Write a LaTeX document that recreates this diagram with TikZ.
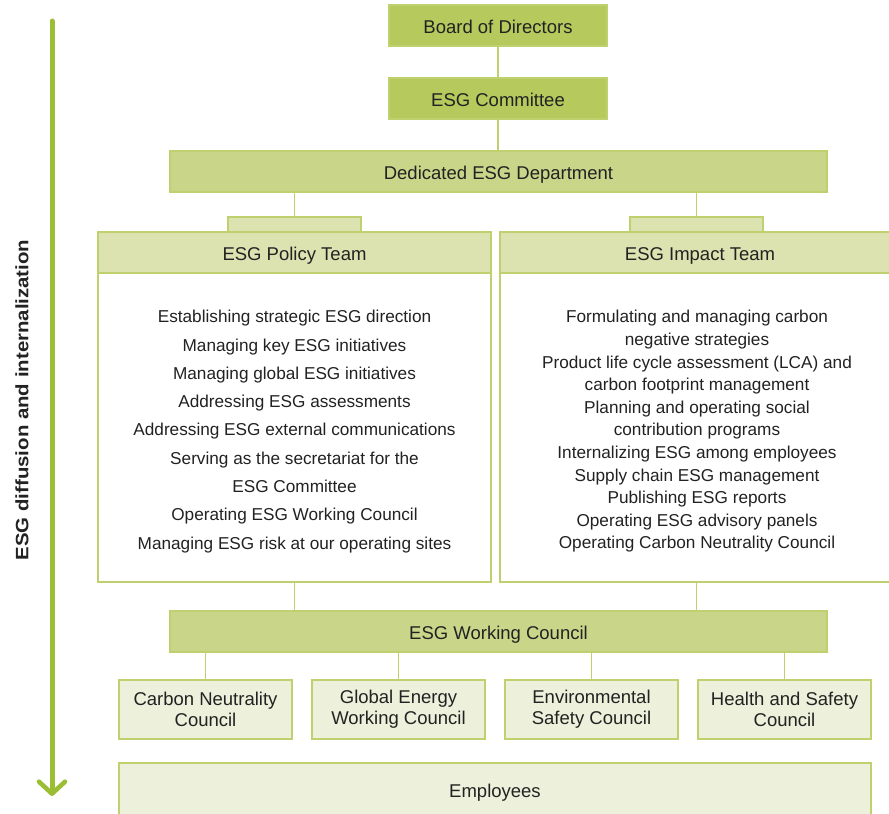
\documentclass[tikz,border=0pt]{standalone}
\usepackage{fontspec}
\setmainfont{Liberation Sans}
\usetikzlibrary{arrows.meta}
\definecolor{boardgreen}{HTML}{B6C95C}
\definecolor{deptgreen}{HTML}{C9D68A}
\definecolor{teamgreen}{HTML}{DCE3B0}
\definecolor{councilgreen}{HTML}{EDF0DA}
\definecolor{linegreen}{HTML}{BFD06E}
\definecolor{arrowgreen}{HTML}{9CBE34}
\definecolor{txtgray}{HTML}{222222}
\tikzset{
  box/.style={draw=linegreen, line width=1.2pt, inner sep=0pt, align=center, text=txtgray,
    font=\fontsize{18.5}{21}\selectfont},
  oneline/.style={text height=15.4pt, text depth=0pt},
  topbox/.style={box, oneline, fill=boardgreen, minimum width=218pt, minimum height=41pt},
  widebox/.style={box, oneline, fill=deptgreen, minimum width=657pt, minimum height=41pt},
  tabbox/.style={box, fill=teamgreen, minimum width=133pt, minimum height=15pt},
  headbox/.style={box, oneline, fill=teamgreen, minimum height=41pt},
  bodybox/.style={box, fill=white, minimum height=309pt},
  listtext/.style={align=center, inner sep=0pt, text=txtgray},
  councilbox/.style={box, fill=councilgreen, minimum width=173pt, minimum height=59pt},
  link/.style={draw=linegreen, line width=1.2pt}
}
\begin{document}
\begin{tikzpicture}[x=1pt,y=-1pt]
  \clip (0,0) rectangle (889,814);
  % top of the chart
  \node[topbox] (board) at (498,25.5) {Board of Directors};
  \node[topbox] (committee) at (498,98.5) {ESG Committee};
  \node[widebox] (dept) at (498.5,171.5) {Dedicated ESG Department};
  % the two teams
  \node[tabbox] (ptab) at (294.5,224.5) {};
  \node[tabbox] (itab) at (696.5,224.5) {};
  \node[headbox, minimum width=393pt] (phead) at (294.5,252.5) {ESG Policy Team};
  \node[headbox, minimum width=400pt] (ihead) at (700,252.5) {ESG Impact Team};
  \node[bodybox, minimum width=393pt] (pbody) at (294.5,427.5) {};
  \node[bodybox, minimum width=400pt] (ibody) at (700,427.5) {};
  \node[listtext, font=\fontsize{17.2}{28.3}\selectfont] (plist) at (294.5,431.5)
    {Establishing strategic ESG direction\\Managing key ESG initiatives\\Managing global ESG initiatives\\
     Addressing ESG assessments\\Addressing ESG external communications\\Serving as the secretariat for the\\
     ESG Committee\\Operating ESG Working Council\\Managing ESG risk at our operating sites};
  \node[listtext, font=\fontsize{17.2}{22.6}\selectfont] (ilist) at (697,431.5)
    {Formulating and managing carbon\\negative strategies\\
     Product life cycle assessment (LCA) and\\carbon footprint management\\
     Planning and operating social\\contribution programs\\
     Internalizing ESG among employees\\Supply chain ESG management\\
     Publishing ESG reports\\Operating ESG advisory panels\\
     Operating Carbon Neutrality Council};
  % councils
  \node[widebox] (work) at (498.5,631.5) {ESG Working Council};
  \node[councilbox] (c1) at (205.5,709.5) {Carbon Neutrality\\Council};
  \node[councilbox] (c2) at (398.5,709.5) {Global Energy\\Working Council};
  \node[councilbox] (c3) at (591.5,709.5) {Environmental\\Safety Council};
  \node[councilbox] (c4) at (784.5,709.5) {Health and Safety\\Council};
  \node[box, oneline, fill=councilgreen, minimum width=752pt, minimum height=54pt] (staff) at (495,790) {Employees};
  % connectors
  \draw[link] (board) -- (committee);
  \draw[link] (committee) -- (committee.south |- dept.north);
  \draw[link] (ptab.north) -- (ptab.north |- dept.south);
  \draw[link] (itab.north) -- (itab.north |- dept.south);
  \draw[link] (pbody.south) -- (pbody.south |- work.north);
  \draw[link] (ibody.south -| itab.north) -- (itab.north |- work.north);
  \foreach \c in {c1,c2,c3,c4}
    \draw[link] (\c.north) -- (\c.north |- work.south);
  % side arrow
  \coordinate (arrtop) at (52,21);
  \coordinate (arrbot) at (52,796);
  \draw[arrowgreen, line width=5pt, line cap=round,
    -{Straight Barb[length=12pt, width=26pt, line width=4.6pt, round]}] (arrtop) -- (arrbot);
  \node[rotate=90, text=txtgray, font=\bfseries\fontsize{20.4}{22}\selectfont] (flow) at (22,400)
    {\scalebox{1}[0.88]{ESG diffusion and internalization}};
\end{tikzpicture}
\end{document}
